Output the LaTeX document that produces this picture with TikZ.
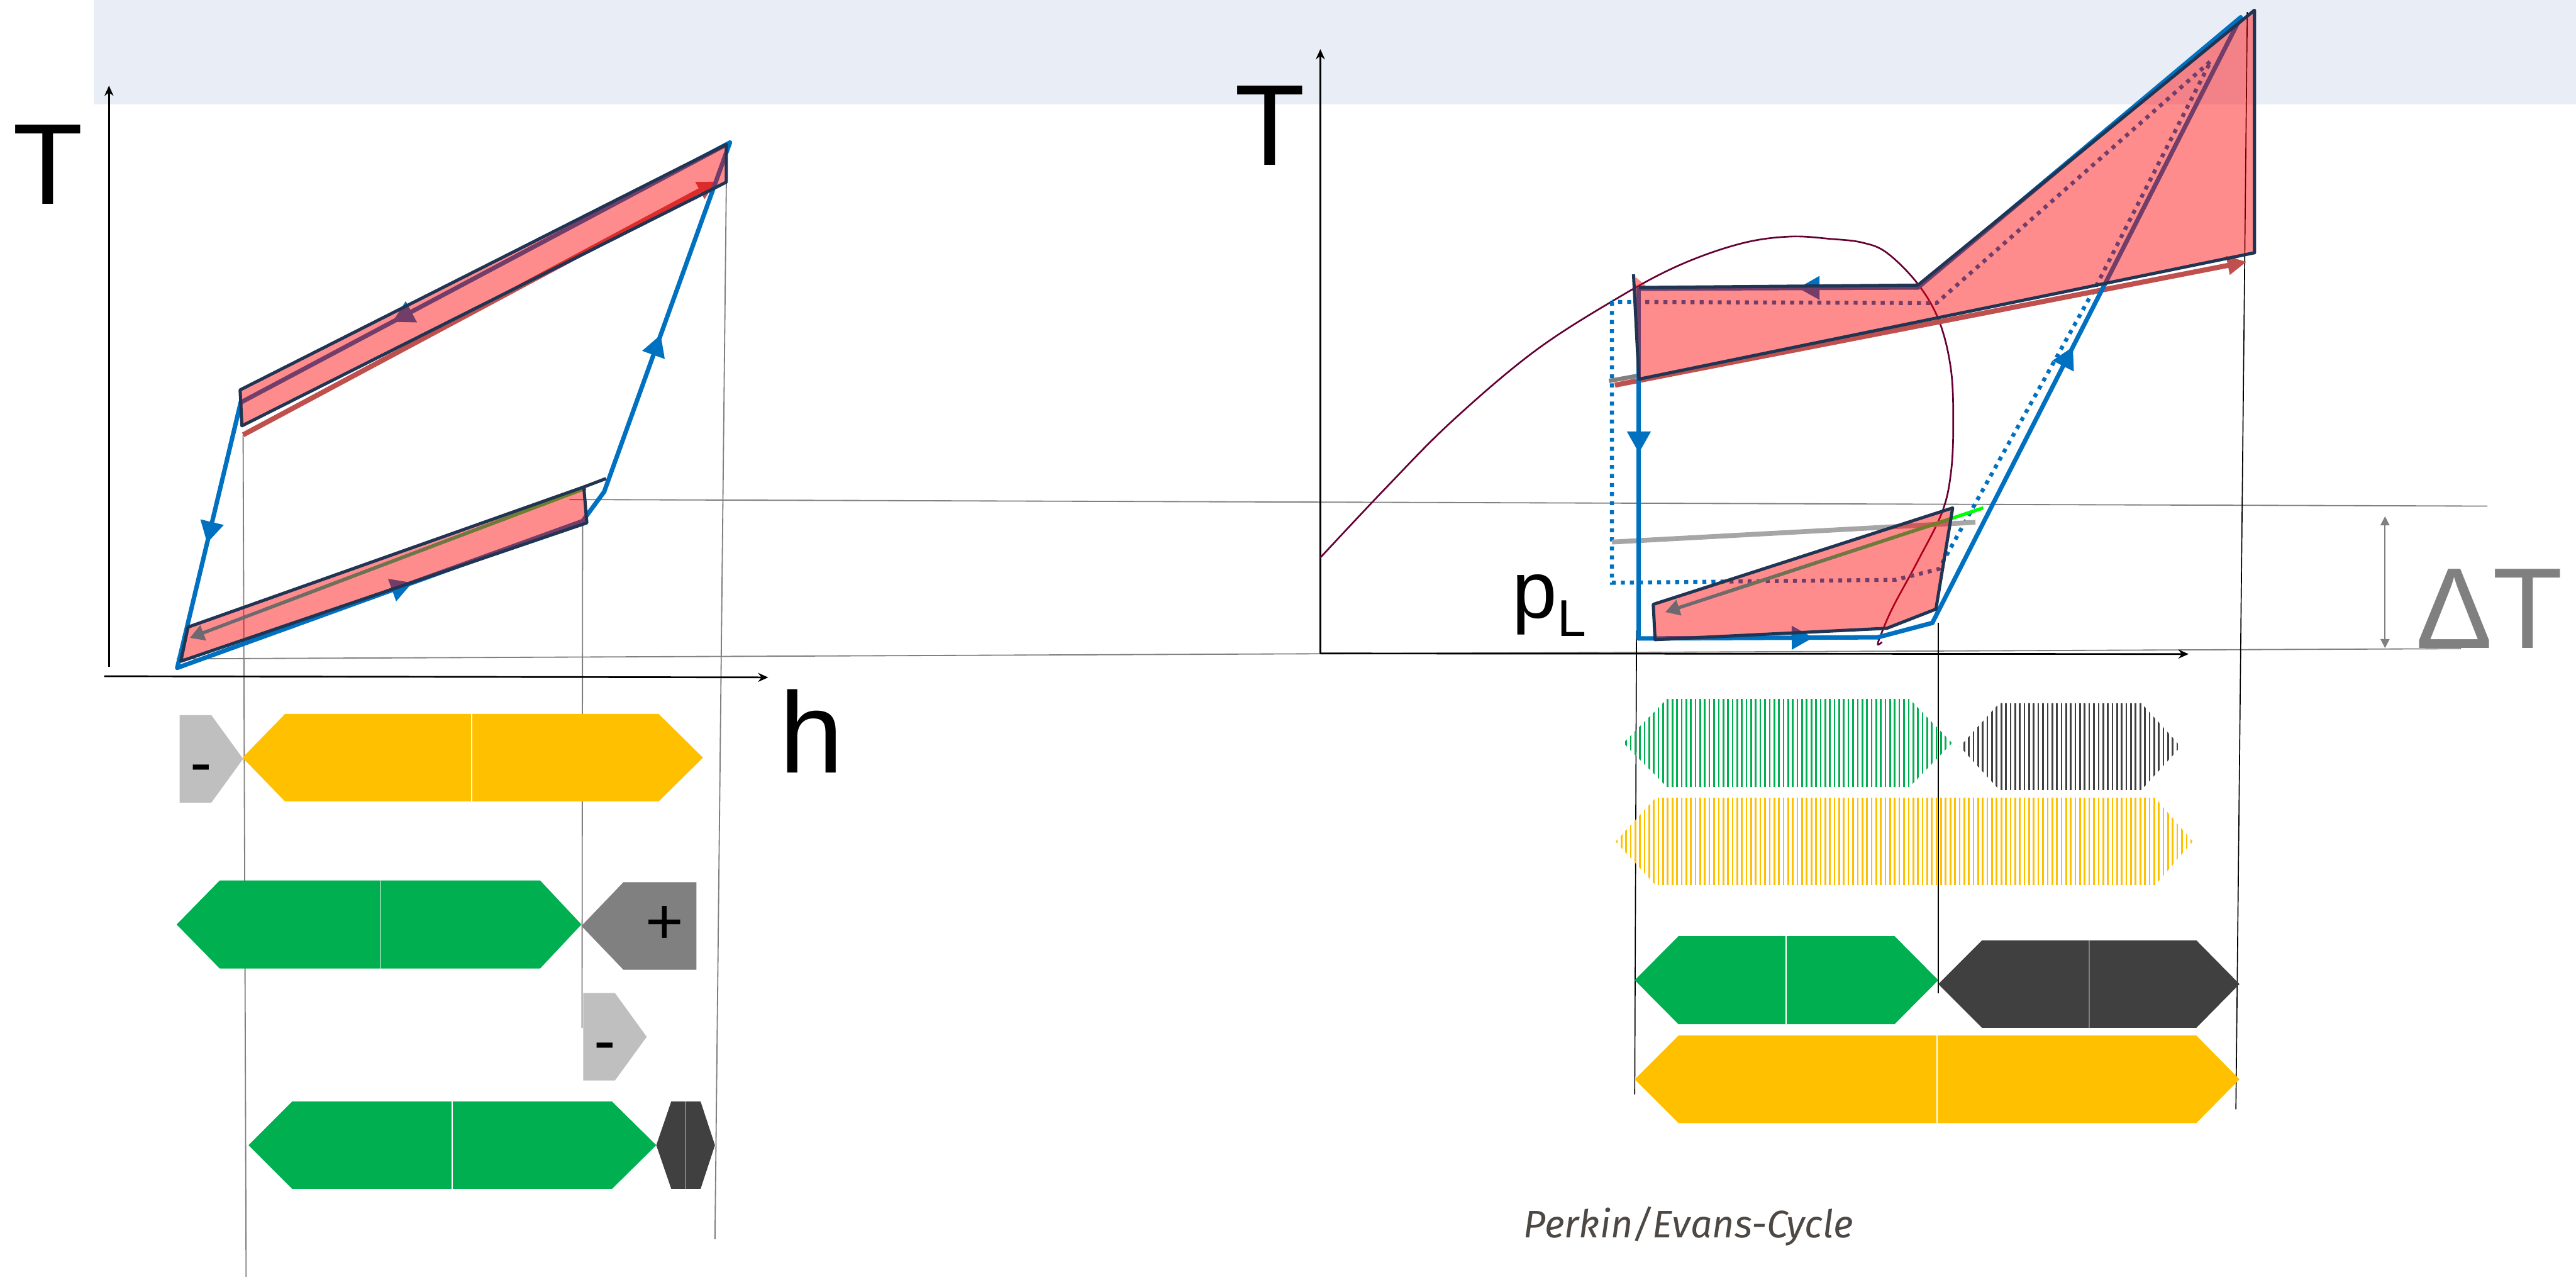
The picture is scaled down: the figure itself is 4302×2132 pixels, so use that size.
\documentclass[tikz,border=0pt]{standalone}
\usepackage{fontspec}
\setmainfont{Liberation Sans}
\newfontfamily\capfont{Fira Sans}
\usetikzlibrary{arrows.meta, decorations.markings, patterns.meta, calc}

\definecolor{band}{RGB}{233,238,246}
\definecolor{cycblue}{RGB}{0,112,192}
\definecolor{edge}{RGB}{31,53,83}
\definecolor{heatred}{RGB}{192,80,77}
\definecolor{dome}{RGB}{102,0,51}
\definecolor{barylw}{RGB}{255,192,0}
\definecolor{bargrn}{RGB}{0,176,80}
\definecolor{bardark}{RGB}{64,64,64}
\definecolor{barmid}{RGB}{128,128,128}
\definecolor{barlight}{RGB}{191,191,191}
\definecolor{brightgrn}{RGB}{0,255,0}
\definecolor{olivegrn}{RGB}{112,128,40}
\definecolor{arrowgray}{RGB}{110,104,112}
\definecolor{captxt}{RGB}{77,72,67}

% bar: style, left tip, left corner, right corner, right tip, top, bottom
\newcommand{\hexbar}[7]{\fill[#1] (#2,{(#6+#7)/2}) -- (#3,#6) -- (#4,#6) -- (#5,{(#6+#7)/2}) -- (#4,#7) -- (#3,#7) -- cycle;}

\begin{document}
\begin{tikzpicture}[x=0.01cm, y=-0.01cm,
  axis/.style={line width=0.8pt, -{Stealth[length=0.17cm,width=0.15cm]}},
  guide/.style={barmid, line width=0.55pt},
  extline/.style={black, line width=0.5pt},
  cyc/.style={cycblue, line width=2.1pt, line cap=round, line join=round},
  flow/.style={decoration={markings, mark=at position #1 with {\arrow{Triangle[length=0.36cm,width=0.38cm]}}},
               postaction={decorate}},
  dots/.style={cycblue, line width=1.9pt, dash pattern=on 1.9pt off 2.4pt},
  heat/.style={heatred, line width=2.4pt, -{Triangle[length=0.32cm,width=0.3cm]}},
  pinkarea/.style={fill=red, fill opacity=0.45},
  edgeline/.style={draw=edge, line width=1.5pt, line join=round},
  gradln/.style={line width=1.6pt},
  axlbl/.style={inner sep=0pt, anchor=base, font=\fontsize{54.6}{60}\selectfont},
  sign/.style={inner sep=0pt, anchor=base, font=\fontsize{31}{34}\selectfont},
  hatch/.style={pattern={Lines[angle=90,distance=2.2pt,line width=0.8pt]}, pattern color=#1},
  divider/.style={white, line width=0.5pt}
]
  \useasboundingbox (0,0) rectangle (4302,2132);
  \fill[band] (156,0) rectangle (4302,174);

  % guide lines
  \draw[guide] (951,834) -- (4154,845);
  \draw[guide] (295,1100) -- (4110,1083);
  \draw[guide] (406,726) -- (411,2132);
  \draw[guide] (973,873) -- (972,1716);
  \draw[guide] (1213,304) -- (1194,2069);
  \draw[extline] (2733,1053) -- (2730,1827);
  \draw[extline] (3237,1040) -- (3237,1658);
  \draw[extline] (3753,20) -- (3734,1852);

  % axes
  \draw[axis] (182,1113) -- (182,143);
  \draw[axis] (174,1129) -- (1283,1131);
  \draw[axis] (2205,1091) -- (2205,82);
  \draw[axis] (2205,1091) -- (3655,1092);
  \coordinate (dta) at (3983,862);
  \coordinate (dtb) at (3983,1082);
  \draw[barmid, line width=0.55pt, {Triangle[length=0.15cm,width=0.15cm]}-{Triangle[length=0.15cm,width=0.15cm]}] (dta) -- (dtb);

  % saturation dome
  \draw[dome, line width=0.8pt] plot[smooth, tension=0.6] coordinates {
    (2205,931) (2315,814) (2424,704) (2562,587) (2699,499) (2804,443) (2906,407)
    (2988,395) (3059,399) (3110,405) (3151,422) (3202,473) (3238,535) (3258,616)
    (3262,708) (3258,790) (3243,856) (3202,938) (3161,1014) (3141,1060) (3136,1076) (3143,1072)};

  % dotted cycle
  \coordinate (d1) at (2692,504);
  \coordinate (d2) at (2692,973);
  \coordinate (d3) at (3166,968);
  \coordinate (d4) at (3238,950);
  \coordinate (d5) at (3503,473);
  \coordinate (d6) at (3692,102);
  \coordinate (d7) at (3234,506);
  \draw[dots] (d1) -- (d2) -- (d3) -- (d4) -- (d5) -- (d6) -- (d7) -- cycle;

  % gray and red lines
  \draw[gray!70, line width=2.3pt] (2692,905) -- (3299,872);
  \draw[barmid, line width=2pt] (2687,636) -- (2737,627);
  \draw[heat] (406,726) -- (1197,303);
  \draw[heat] (2697,643) -- (3752,437);

  % left cycle
  \coordinate (lA) at (402,672);
  \coordinate (lB) at (296,1115);
  \coordinate (lC) at (973,870);
  \coordinate (lD) at (1009,821);
  \coordinate (lE) at (1219,238);
  \draw[cyc, flow=0.53] (lA) -- (lB);
  \draw[cyc, flow=0.58] (lB) -- (lC);
  \draw[cyc] (lC) -- (lD);
  \draw[cyc, flow=0.45] (lD) -- (lE);
  \draw[cyc, flow=0.69] (lE) -- (lA);

  % right cycle
  \coordinate (rA) at (2737,482);
  \coordinate (rB) at (2737,1066);
  \coordinate (rC) at (3136,1064);
  \coordinate (rD) at (3227,1040);
  \coordinate (rE) at (3742,29);
  \coordinate (rF) at (3203,480);
  \draw[cyc, flow=0.43] (rF) -- (rA);
  \draw[cyc, flow=0.47] (rA) -- (rB);
  \draw[cyc, flow=0.73] (rB) -- (rC);
  \draw[cyc] (rC) -- (rD);
  \draw[cyc, flow=0.456] (rD) -- (rE);
  \draw[cyc] (rE) -- (rF);

  % heat exchange areas
  \fill[pinkarea] (401,651) -- (1213,241) -- (1213,304) -- (404,711) -- cycle;
  \fill[pinkarea] (302,1104) -- (314,1047) -- (975,813) -- (980,873) -- cycle;
  \fill[pinkarea] (2731,462) -- (2752,480) -- (3203,476) -- (3765,17) -- (3765,422) -- (2737,633) -- cycle;
  \fill[pinkarea] (2761,1009) -- (3261,848) -- (3233,1017) -- (3151,1049) -- (2764,1068) -- cycle;

  % recuperator lines
  \coordinate (gls) at (978,815);
  \coordinate (gle) at (317,1065);
  \coordinate (grs) at (3258,866);
  \coordinate (gre) at (2781,1022);
  \draw[gradln, brightgrn] (3312,848) -- (grs);
  \foreach \s/\e in {gls/gle, grs/gre} {
    \draw[gradln, arrowgray, -{Triangle[length=0.24cm,width=0.26cm]}] (\s) -- (\e);
    \foreach \k in {0,...,7} {
      \pgfmathsetmacro{\ta}{\k/10}
      \pgfmathsetmacro{\tb}{(\k+1)/10+0.01}
      \pgfmathtruncatemacro{\mix}{100-12*\k}
      \draw[gradln, olivegrn!\mix!arrowgray] ($(\s)!\ta!(\e)$) -- ($(\s)!\tb!(\e)$);
    }
  }

  % outlines
  \draw[edgeline] (401,651) -- (1213,241) -- (1213,304) -- (404,711) -- cycle;
  \draw[edgeline] (302,1104) -- (314,1047) -- (975,813) -- (980,873) -- cycle;
  \draw[edgeline] (975,813) -- (1012,799);
  \draw[edgeline] (2728,458) -- (2737,633) -- (3765,422) -- (3765,17) -- (3203,476) -- (2737,480);
  \draw[edgeline] (2761,1009) -- (3261,848) -- (3233,1017) -- (3151,1049) -- (2764,1068) -- cycle;

  % left bars
  \fill[barlight] (300,1194) -- (353,1194) -- (406,1267) -- (353,1340) -- (300,1340) -- cycle;
  \hexbar{barylw}{405}{476}{1100}{1174}{1192}{1338}
  \draw[divider] (788,1192) -- (788,1338);
  \hexbar{bargrn}{295}{367}{902}{971}{1470}{1617}
  \draw[divider] (635,1470) -- (635,1617);
  \fill[barmid] (971,1546) -- (1041,1473) -- (1163,1473) -- (1163,1619) -- (1041,1619) -- cycle;
  \fill[barlight] (974,1658) -- (1027,1658) -- (1080,1731) -- (1027,1804) -- (974,1804) -- cycle;
  \hexbar{bargrn}{415}{488}{1022}{1096}{1839}{1985}
  \draw[divider] (755,1839) -- (755,1985);
  \hexbar{bardark}{1096}{1121}{1170}{1194}{1839}{1985}
  \draw[barmid, line width=0.5pt] (1145,1839) -- (1145,1985);

  % right bars
  \hexbar{hatch=bargrn}{2711}{2784}{3189}{3260}{1167}{1314}
  \hexbar{hatch=bardark}{3273}{3339}{3576}{3642}{1174}{1319}
  \hexbar{hatch=barylw}{2698}{2765}{3599}{3662}{1332}{1478}
  \hexbar{bargrn}{2730}{2803}{3164}{3237}{1563}{1710}
  \draw[divider] (2983,1563) -- (2983,1710);
  \hexbar{bardark}{3237}{3310}{3668}{3740}{1570}{1716}
  \draw[barmid, line width=0.5pt] (3489,1570) -- (3489,1716);
  \hexbar{barylw}{2730}{2803}{3668}{3740}{1729}{1875}
  \draw[divider] (3235,1729) -- (3235,1875);

  % labels
  \node[axlbl] (tleft) at (80,341) {T};
  \node[axlbl] (tright) at (2121,276) {T};
  \node[axlbl] (hleft) at (1355,1290) {h};
  \node[axlbl, text=barmid] (dtlbl) at (4157,1082) {ΔT};
  \node[inner sep=0pt, anchor=base west, font=\fontsize{38.4}{42}\selectfont] (plow) at (2525,1032)
    {p\raisebox{-0.3cm}{\fontsize{24.6}{26}\selectfont L}};
  \node[sign] (minusa) at (336,1310) {-};
  \node[sign] (plusa) at (1110,1576) {+};
  \node[sign] (minusb) at (1010,1774) {-};
  \node[inner sep=0pt, anchor=base west, text=captxt, font=\capfont\itshape\fontsize{18.2}{21}\selectfont] (cycname)
    at (2544,2066) {Perkin/Evans-Cycle};
\end{tikzpicture}
\end{document}
